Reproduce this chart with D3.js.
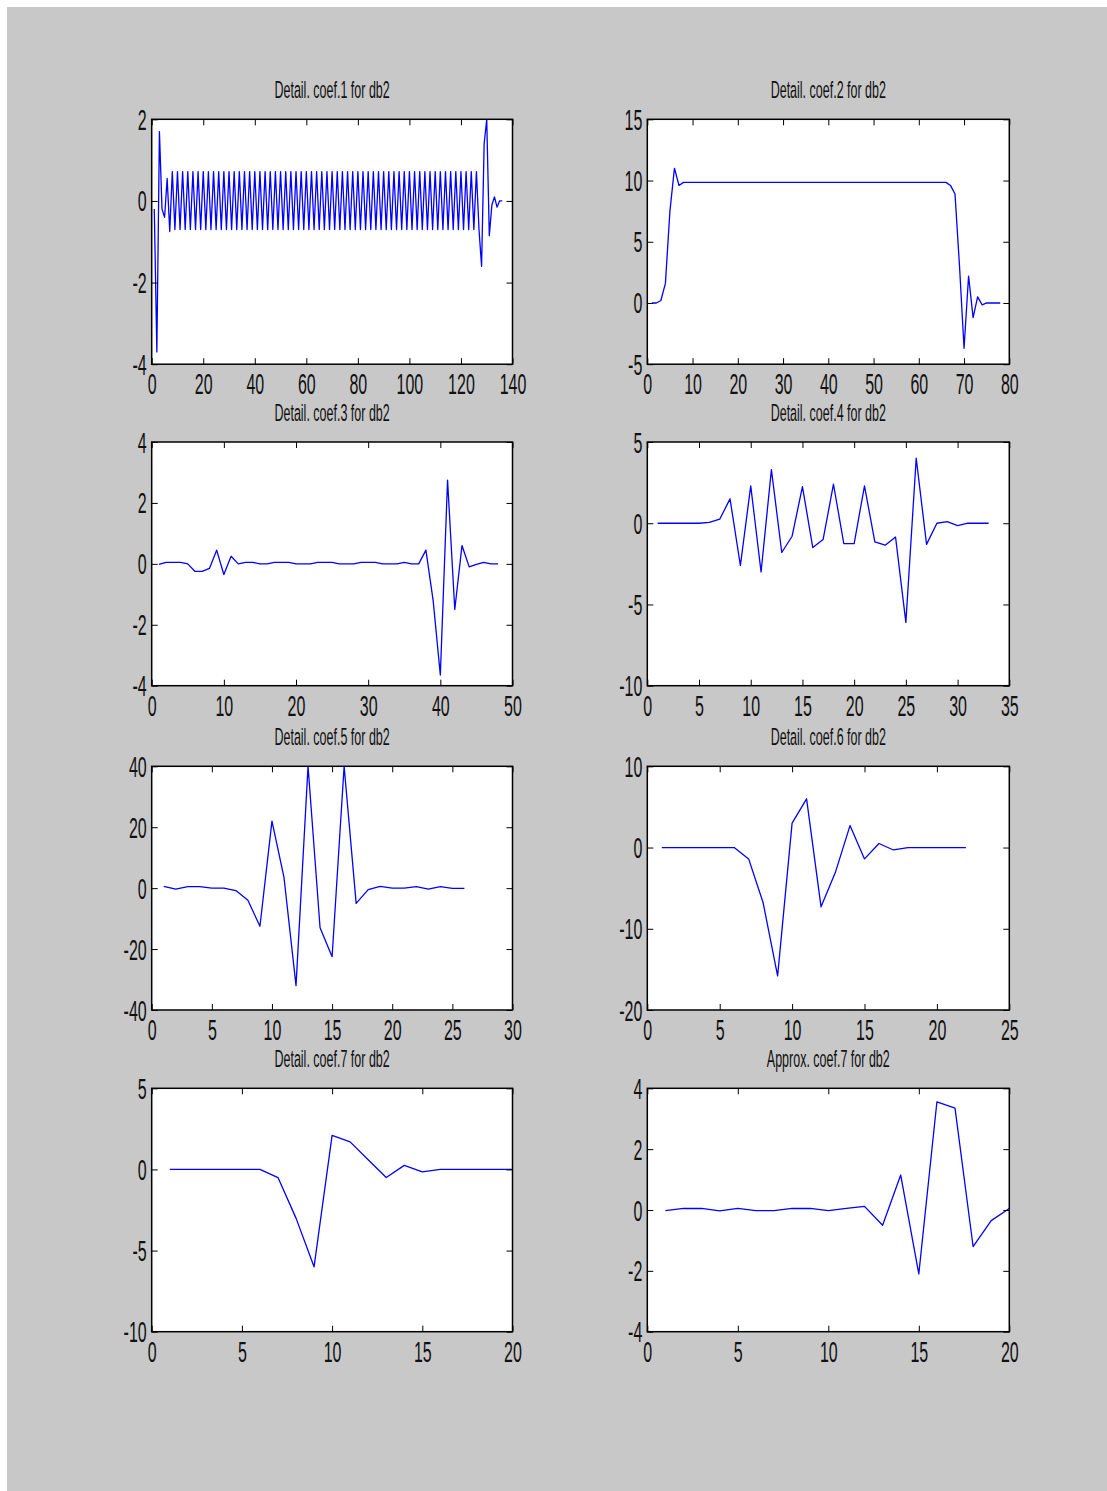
<!DOCTYPE html>
<html>
<head>
<meta charset="utf-8">
<script src="https://cdn.jsdelivr.net/npm/d3@7"></script>
<style>
  html, body { margin: 0; padding: 0; background: #fff; }
  svg { display: block; }
</style>
</head>
<body>
<div id="chart"></div>
<script>
// detail / approximation coefficients
const coef1 = [
  -0.2, -3.7, 1.7, -0.2, -0.4, 0.55, -0.75,
  0.72, -0.70, 0.72, -0.70, 0.72, -0.70, 0.72, -0.70, 0.72, -0.70,
  0.72, -0.70, 0.72, -0.70, 0.72, -0.70, 0.72, -0.70, 0.72, -0.70,
  0.72, -0.70, 0.72, -0.70, 0.72, -0.70, 0.72, -0.70, 0.72, -0.70,
  0.72, -0.70, 0.72, -0.70, 0.72, -0.70, 0.72, -0.70, 0.72, -0.70,
  0.72, -0.70, 0.72, -0.70, 0.72, -0.70, 0.72, -0.70, 0.72, -0.70,
  0.72, -0.70, 0.72, -0.70, 0.72, -0.70, 0.72, -0.70, 0.72, -0.70,
  0.72, -0.70, 0.72, -0.70, 0.72, -0.70, 0.72, -0.70, 0.72, -0.70,
  0.72, -0.70, 0.72, -0.70, 0.72, -0.70, 0.72, -0.70, 0.72, -0.70,
  0.72, -0.70, 0.72, -0.70, 0.72, -0.70, 0.72, -0.70, 0.72, -0.70,
  0.72, -0.70, 0.72, -0.70, 0.72, -0.70, 0.72, -0.70, 0.72, -0.70,
  0.72, -0.70, 0.72, -0.70, 0.72, -0.70, 0.72, -0.70, 0.72, -0.70,
  0.72, -0.70, 0.72, -0.70, 0.72, -0.70, 0.72, -0.70, 0.72, -0.70,
  -1.6, 1.4, 2.0, -0.85, -0.1, 0.1, -0.15, 0.0, 0.0
];
const coef2 = [
  0, 0, 0.2, 1.6, 7.5, 11, 9.6,
  9.85, 9.85, 9.85, 9.85, 9.85, 9.85, 9.85, 9.85, 9.85, 9.85,
  9.85, 9.85, 9.85, 9.85, 9.85, 9.85, 9.85, 9.85, 9.85, 9.85,
  9.85, 9.85, 9.85, 9.85, 9.85, 9.85, 9.85, 9.85, 9.85, 9.85,
  9.85, 9.85, 9.85, 9.85, 9.85, 9.85, 9.85, 9.85, 9.85, 9.85,
  9.85, 9.85, 9.85, 9.85, 9.85, 9.85, 9.85, 9.85, 9.85, 9.85,
  9.85, 9.85, 9.85, 9.85, 9.85, 9.85, 9.85, 9.85, 9.85,
  9.6, 8.9, 3.0, -3.7, 2.2, -1.2, 0.5, -0.15, 0, 0, 0, 0
];
const coef3 = [
  -0.02, 0.05, 0.05, 0.05, 0.0, -0.25, -0.25, -0.15, 0.45, -0.35,
  0.25, 0.0, 0.05, 0.05, 0.0, 0.0, 0.05, 0.05, 0.05, 0.0,
  0.0, 0.0, 0.05, 0.05, 0.05, 0.0, 0.0, 0.0, 0.05, 0.05,
  0.05, 0.0, 0.0, 0.0, 0.05, 0.0, 0.0, 0.45, -1.2, -3.65,
  2.75, -1.5, 0.6, -0.1, -0.02, 0.05, 0.0, 0.0
];
const coef4 = [
  0, 0, 0, 0, 0, 0.05, 0.25, 1.5, -2.6, 2.3,
  -3.0, 3.3, -1.8, -0.8, 2.25, -1.5, -1.0, 2.4, -1.25, -1.25,
  2.3, -1.15, -1.35, -0.85, -6.1, 4.0, -1.3, 0.0, 0.1, -0.15,
  0, 0, 0
];
const coef5 = [
  0.6, -0.3, 0.5, 0.5, 0, 0, -0.8, -4, -12.5, 22,
  3.5, -32, 40, -13, -22.5, 40, -5, -0.5, 0.6, 0,
  0, 0.5, -0.3, 0.5, -0.1, -0.1
];
const coef6 = [
  0, 0, 0, 0, 0, 0, -1.4, -6.8, -15.8, 3.0,
  6.0, -7.3, -3.0, 2.7, -1.4, 0.5, -0.3, 0, 0, 0,
  0, 0
];
const coef7 = [
  0, 0, 0, 0, 0, 0, -0.5, -3.0, -6.0, 2.1,
  1.7, 0.6, -0.5, 0.25, -0.15, 0, 0, 0, 0, 0
];
const approx7 = [
  -0.02, 0.05, 0.05, -0.03, 0.05, -0.02, -0.02, 0.05, 0.05, -0.02,
  0.05, 0.12, -0.5, 1.15, -2.1, 3.55, 3.35, -1.2, -0.35, 0.05
];

const titles = [
  "Detail. coef.1 for db2", "Detail. coef.2 for db2",
  "Detail. coef.3 for db2", "Detail. coef.4 for db2",
  "Detail. coef.5 for db2", "Detail. coef.6 for db2",
  "Detail. coef.7 for db2", "Approx. coef.7 for db2"
];
const series = [coef1, coef2, coef3, coef4, coef5, coef6, coef7, approx7];
const xDomains = [[0, 140], [0, 80], [0, 50], [0, 35], [0, 30], [0, 25], [0, 20], [0, 20]];
const yDomains = [[-4, 2], [-5, 15], [-4, 4], [-10, 5], [-40, 40], [-20, 10], [-10, 5], [-4, 4]];
const xTicks = [
  [0, 20, 40, 60, 80, 100, 120, 140],
  [0, 10, 20, 30, 40, 50, 60, 70, 80],
  [0, 10, 20, 30, 40, 50],
  [0, 5, 10, 15, 20, 25, 30, 35],
  [0, 5, 10, 15, 20, 25, 30],
  [0, 5, 10, 15, 20, 25],
  [0, 5, 10, 15, 20],
  [0, 5, 10, 15, 20]
];
const yTicks = [
  [-4, -2, 0, 2],
  [-5, 0, 5, 10, 15],
  [-4, -2, 0, 2, 4],
  [-10, -5, 0, 5],
  [-40, -20, 0, 20, 40],
  [-20, -10, 0, 10],
  [-10, -5, 0, 5],
  [-4, -2, 0, 2, 4]
];

const width = 1107;
const height = 1491;
const colLeft = [151.7, 647.3];
const colRight = [512.5, 1009.3];
const rowTop = [119.3, 442, 766.3, 1088.3];
const rowBottom = [364.2, 685.7, 1010, 1331.7];
const font = "'Liberation Sans', Arial, sans-serif";
const stretch = 1.8;

const svg = d3.create("svg")
    .attr("width", width)
    .attr("height", height)
    .attr("viewBox", [0, 0, width, height]);

svg.append("rect")
    .attr("x", 7).attr("y", 7)
    .attr("width", width - 7).attr("height", height - 7)
    .attr("fill", "#c8c8c8");

const fmt = d => String(d);

series.forEach((values, i) => {
    const col = i % 2, row = Math.floor(i / 2);
    const x0 = colLeft[col], x1 = colRight[col];
    const y0 = rowTop[row], y1 = rowBottom[row];

    const x = d3.scaleLinear().domain(xDomains[i]).range([x0, x1]);
    const y = d3.scaleLinear().domain(yDomains[i]).range([y1, y0]);

    const g = svg.append("g");

    g.append("rect")
        .attr("x", x0).attr("y", y0)
        .attr("width", x1 - x0).attr("height", y1 - y0)
        .attr("fill", "#fff");

    g.append("clipPath").attr("id", "clip" + i)
      .append("rect")
        .attr("x", x0).attr("y", y0)
        .attr("width", x1 - x0).attr("height", y1 - y0);

    const line = d3.line()
        .x((d, j) => x(j + 1))
        .y(d => y(d));

    g.append("path")
        .datum(values)
        .attr("clip-path", `url(#clip${i})`)
        .attr("fill", "none")
        .attr("stroke", "#0000ff")
        .attr("stroke-width", 1.3)
        .attr("stroke-linejoin", "round")
        .attr("d", line);

    // box ticks, pointing inward on all four sides
    const bottom = g.append("g")
        .attr("transform", `translate(0,${y1})`)
        .call(d3.axisBottom(x).tickValues(xTicks[i]).tickFormat(fmt).tickSizeInner(-6).tickSizeOuter(0));
    bottom.selectAll("text")
        .attr("y", 0).attr("dy", null)
        .attr("transform", `translate(0,30) scale(1,${stretch})`);

    g.append("g")
        .attr("transform", `translate(0,${y0})`)
        .call(d3.axisTop(x).tickValues(xTicks[i]).tickFormat("").tickSizeInner(-6).tickSizeOuter(0));

    const left = g.append("g")
        .attr("transform", `translate(${x0},0)`)
        .call(d3.axisLeft(y).tickValues(yTicks[i]).tickFormat(fmt).tickSizeInner(-6).tickSizeOuter(0));
    left.selectAll("text")
        .attr("x", 0).attr("dy", null)
        .attr("transform", `translate(-5,10) scale(1,${stretch})`);

    g.append("g")
        .attr("transform", `translate(${x1},0)`)
        .call(d3.axisRight(y).tickValues(yTicks[i]).tickFormat("").tickSizeInner(-6).tickSizeOuter(0));

    g.selectAll(".domain").remove();
    g.selectAll(".tick line").attr("stroke", "#000");
    g.selectAll(".tick text")
        .attr("fill", "#111")
        .attr("font-family", font)
        .attr("font-size", 16);

    g.append("rect")
        .attr("x", x0).attr("y", y0)
        .attr("width", x1 - x0).attr("height", y1 - y0)
        .attr("fill", "none")
        .attr("stroke", "#000")
        .attr("stroke-width", 1.5);

    g.append("text")
        .attr("transform", `translate(${(x0 + x1) / 2},${y0 - 21}) scale(1,1.9)`)
        .attr("text-anchor", "middle")
        .attr("font-family", font)
        .attr("font-size", 12.5)
        .attr("fill", "#111")
        .text(titles[i]);
});

document.getElementById("chart").appendChild(svg.node());
</script>
</body>
</html>
